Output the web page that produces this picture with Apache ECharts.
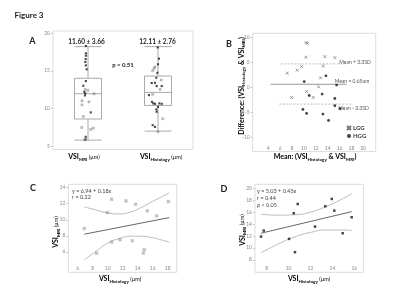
<!DOCTYPE html>
<html>
<head>
<meta charset="utf-8">
<script src="https://cdn.jsdelivr.net/npm/echarts@6/dist/echarts.min.js"></script>
<style>
html, body { margin: 0; padding: 0; background: #fff; }
#main { width: 400px; height: 300px; }
</style>
</head>
<body>
<div id="main"></div>
<script>
// ---- panel A : box plots (min, Q1, median, Q3, max)
var boxNames = ['MRI', 'Histology'];
var boxStats = [[5.8, 8.6, 11.95, 14.0, 18.2], [7.0, 10.4, 12.13, 14.3, 18.2]];
// points as [jittered position, value]
var aHgg = [
    [0.97, 18.28], [0.97, 17.31], [0.97, 16.99], [0.967, 16.55], [0.961, 16.16], [0.97, 15.72],
    [0.981, 15.19], [0.97, 13.63], [0.933, 13.01], [0.947, 12.21], [0.961, 12.0], [0.957, 11.73],
    [1.039, 9.48], [0.967, 6.24], [0.964, 5.9],
    [1.996, 18.1], [2.014, 16.6], [2.0, 15.85], [1.99, 14.73], [1.976, 14.07], [1.91, 13.37],
    [1.957, 13.4], [1.981, 12.97], [2.053, 12.97], [1.871, 11.77], [1.914, 10.88], [1.933, 10.67],
    [1.957, 10.62], [2.019, 10.67], [2.053, 10.62], [2.0, 10.22], [1.976, 9.87], [1.981, 9.56],
    [1.924, 7.79], [1.957, 7.56]
];
var aLgg = [
    [0.961, 12.53], [1.0, 12.4], [1.086, 11.95], [0.914, 11.02], [1.014, 10.88], [0.914, 10.48],
    [0.933, 8.94], [0.91, 7.48], [1.039, 7.22], [1.076, 7.39], [0.953, 5.85],
    [1.957, 15.5], [1.943, 15.3], [1.924, 15.0], [2.047, 13.77], [2.029, 12.53], [1.924, 11.87],
    [2.067, 8.63], [2.0, 6.9]
];

// ---- panel B : Bland-Altman
var bLgg = [
    [10.34, 9.0], [10.62, 8.88], [10.34, 6.08], [13.53, 6.2], [15.2, 6.0], [13.24, 4.34],
    [9.61, 4.2], [8.87, 3.48], [7.19, 2.88], [12.8, 1.94], [12.47, 0.14], [10.45, -0.8],
    [7.93, -2.0], [11.56, -2.0]
];
var bHgg = [
    [10.05, 1.2], [13.7, 2.34], [15.5, 0.48], [10.89, -1.6], [13.07, -1.32], [15.2, -2.2],
    [15.2, -3.66], [16.1, -4.26], [9.83, -4.4], [10.45, -5.2], [13.2, -5.32], [14.15, -6.6]
];
var bMean = 0.65, bUpper = 4.74, bLower = -3.33;
var bMeanSpan = [4.4, 17.2], bUpperSpan = [6.1, 16.9], bLowerSpan = [5.85, 18.3];

// ---- panel C : LGG correlation
var cPoints = [
    [6.88, 8.91], [8.53, 5.83], [9.95, 10.89], [10.53, 7.22], [10.53, 12.56], [11.64, 7.5],
    [12.44, 12.35], [13.28, 7.38], [13.73, 11.94], [15.28, 11.11], [14.88, 6.26], [14.75, 5.85],
    [16.53, 10.48], [18.08, 12.26]
];
var cFit = [[6.88, 8.2], [18.21, 10.27]];
var cUpper = [[6.88, 11.6], [8.5, 11.2], [10, 10.85], [11.5, 10.72], [13, 10.95], [14.5, 11.55], [16, 12.3], [17.3, 12.9], [18.21, 13.35]];
var cLower = [[6.88, 5.0], [8.5, 6.1], [10, 7.1], [11.5, 7.65], [13, 7.95], [14.5, 7.95], [16, 7.75], [17.3, 7.45], [18.21, 7.2]];

// ---- panel D : HGG correlation
var dPoints = [
    [7.48, 11.89], [7.73, 12.9], [10.47, 15.81], [10.83, 17.37], [10.58, 9.28], [10.04, 11.51],
    [12.41, 13.57], [13.35, 16.98], [13.94, 18.21], [14.17, 16.25], [14.94, 12.46], [15.76, 15.14]
];
var dFit = [[7.48, 12.46], [15.76, 16.08]];
var dUpper = [[7.48, 15.64], [9, 15.5], [10.5, 15.55], [12, 16.0], [13.5, 17.0], [15, 18.3], [15.76, 19.1]];
var dLower = [[7.48, 9.2], [9, 10.6], [10.5, 11.8], [12, 12.6], [13.5, 13.0], [15, 13.0], [15.76, 12.9]];

// tick labels
var aTicksY = [5, 10, 15, 20];
var bTicksX = [4, 6, 8, 10, 12, 14, 16, 18, 20];
var bTicksY = [-10, -5, 0, 5, 10];
var cTicksX = [6, 8, 10, 12, 14, 16, 18];
var cTicksY = [6, 8, 10, 12, 14];
var dTicksX = [8, 10, 12, 14, 16];
var dTicksY = [8, 10, 12, 14, 16, 18, 20];

var FONT = 'Lato, "Liberation Sans", sans-serif';
var CROSS = 'path://M0,0L10,10M10,0L0,10';
var BOXCROSS = 'path://M0,0H10V10H0ZM0,0L10,10M10,0L0,10';

function valAxis(grid, min, max, ticks, extra) {
    var ax = {
        type: 'value', gridIndex: grid, min: min, max: max,
        splitLine: { show: false },
        axisLine: { show: false },
        axisTick: { show: true, length: 2, customValues: ticks, lineStyle: { color: '#aaa', width: 0.6 } },
        axisLabel: { customValues: ticks, fontSize: 5, color: '#888', fontFamily: FONT, margin: 3 }
    };
    for (var k in extra) ax[k] = extra[k];
    return ax;
}
function insideX(ticks) {
    return {
        axisLabel: { customValues: ticks, inside: true, fontSize: 5, color: '#888', fontFamily: FONT, margin: 1 },
        axisTick: { show: false }
    };
}

function txt(x, y, text, size, weight, color, align) {
    return {
        type: 'text', x: x, y: y, silent: true,
        style: {
            text: text, fontSize: size, fontWeight: weight || 'normal', fontFamily: FONT,
            fill: color || '#222', align: align || 'center', verticalAlign: 'middle'
        }
    };
}

var richStyle = {
    n: { fontSize: 7, fontWeight: 'bold', fontFamily: FONT, color: '#222', lineHeight: 10 },
    s: { fontSize: 4.5, fontWeight: 'bold', fontFamily: FONT, color: '#222', lineHeight: 10, verticalAlign: 'bottom' },
    u: { fontSize: 5.5, fontFamily: FONT, color: '#222', lineHeight: 10 }
};
function richTxt(x, y, text, rot) {
    return {
        type: 'text', x: x, y: y, rotation: rot || 0, silent: true,
        style: { text: text, rich: richStyle, align: 'center', verticalAlign: 'middle' }
    };
}

function line(data, xi, yi, color, width, type, smooth) {
    return {
        type: 'line', xAxisIndex: xi, yAxisIndex: yi, data: data, symbol: 'none', smooth: !!smooth,
        silent: true, lineStyle: { color: color, width: width, type: type || 'solid' }, z: 2
    };
}

var option = {
    animation: false,
    grid: [
        { left: 53, top: 31, width: 140, height: 118.5, show: true, borderColor: '#ddd', borderWidth: 1 },
        { left: 252.7, top: 33.3, width: 123, height: 118.2, show: true, borderColor: '#ddd', borderWidth: 1 },
        { left: 68.3, top: 184.3, width: 108.4, height: 88, show: true, borderColor: '#ddd', borderWidth: 1 },
        { left: 255, top: 184.3, width: 108.3, height: 88, show: true, borderColor: '#ddd', borderWidth: 1 }
    ],
    xAxis: [
        { type: 'category', gridIndex: 0, data: boxNames, show: false },
        { type: 'value', gridIndex: 0, min: 0.5, max: 2.5, show: false },
        valAxis(1, 1.38, 22.08, bTicksX, insideX(bTicksX)),
        valAxis(2, 4.75, 19.2, cTicksX, insideX(cTicksX)),
        valAxis(3, 6.93, 16.82, dTicksX, insideX(dTicksX))
    ],
    yAxis: [
        valAxis(0, 4.56, 20.27, aTicksY),
        valAxis(1, -12.84, 10.88, bTicksY),
        valAxis(2, 3.45, 14.42, cTicksY),
        valAxis(3, 5.9, 20.67, dTicksY)
    ],
    legend: {
        left: 346, top: 125, orient: 'vertical', padding: 0, itemGap: 2,
        itemWidth: 4, itemHeight: 4, selectedMode: false, data: ['LGG', 'HGG'],
        textStyle: { fontSize: 6, fontWeight: 'bold', color: '#333', fontFamily: FONT, padding: [0, 0, 0, -3] }
    },
    series: [
        {
            type: 'boxplot', xAxisIndex: 0, yAxisIndex: 0, data: boxStats, boxWidth: [27, 27], silent: true,
            itemStyle: { color: '#fff', borderColor: '#aaa', borderWidth: 1 }
        },
        {
            name: 'A HGG', type: 'scatter', xAxisIndex: 1, yAxisIndex: 0, data: aHgg,
            symbol: 'rect', symbolSize: 2.1, itemStyle: { color: '#1a1a1a' }, z: 3
        },
        {
            name: 'A LGG', type: 'scatter', xAxisIndex: 1, yAxisIndex: 0, data: aLgg,
            symbol: BOXCROSS, symbolSize: 2, itemStyle: { color: 'rgba(0,0,0,0)', borderColor: '#666', borderWidth: 0.4 }, z: 3
        },
        line([[bMeanSpan[0], bMean], [bMeanSpan[1], bMean]], 2, 1, '#999', 1),
        line([[bUpperSpan[0], bUpper], [bUpperSpan[1], bUpper]], 2, 1, '#aaa', 0.8, [2, 1.5]),
        line([[bLowerSpan[0], bLower], [bLowerSpan[1], bLower]], 2, 1, '#aaa', 0.8, [2, 1.5]),
        {
            name: 'LGG', type: 'scatter', xAxisIndex: 2, yAxisIndex: 1, data: bLgg,
            symbol: CROSS, symbolSize: 3, itemStyle: { color: 'rgba(0,0,0,0)', borderColor: '#555', borderWidth: 0.7 }, z: 3
        },
        {
            name: 'HGG', type: 'scatter', xAxisIndex: 2, yAxisIndex: 1, data: bHgg,
            symbol: 'circle', symbolSize: 2.8, itemStyle: { color: '#111' }, z: 3
        },
        line(cFit, 3, 2, '#666', 1),
        line(cUpper, 3, 2, '#bbb', 1, 'solid', true),
        line(cLower, 3, 2, '#bbb', 1, 'solid', true),
        {
            name: 'C LGG', type: 'scatter', xAxisIndex: 3, yAxisIndex: 2, data: cPoints,
            symbol: BOXCROSS, symbolSize: 2.4, itemStyle: { color: 'rgba(0,0,0,0)', borderColor: '#666', borderWidth: 0.4 }, z: 3
        },
        line(dFit, 4, 3, '#666', 1),
        line(dUpper, 4, 3, '#bbb', 1, 'solid', true),
        line(dLower, 4, 3, '#bbb', 1, 'solid', true),
        {
            name: 'D HGG', type: 'scatter', xAxisIndex: 4, yAxisIndex: 3, data: dPoints,
            symbol: 'rect', symbolSize: 2.5, itemStyle: { color: '#1a1a1a' }, z: 3
        }
    ],
    graphic: [
        txt(29, 15.5, 'Figure 3', 8, 'bold'),
        txt(32.5, 41, 'A', 9, 'bold'),
        txt(229, 44, 'B', 9, 'bold'),
        txt(33, 188, 'C', 9, 'bold'),
        txt(224, 189, 'D', 9, 'bold'),
        txt(86.5, 42, '11.60 \u00b1 3.66', 6.5, 'bold'),
        txt(157.5, 42, '12.11 \u00b1 2.76', 6.5, 'bold'),
        txt(123, 65, 'p = 0.51', 6, 'bold'),
        richTxt(84, 157, '{n|VSI}{s|MRI}{u| (\u00b5m)}'),
        richTxt(161, 157, '{n|VSI}{s|Histology}{u| (\u00b5m)}'),
        richTxt(315, 157, '{n|Mean: (VSI}{s|Histology}{n| & VSI}{s|MRI}{n|)}'),
        richTxt(241.5, 86, '{n|Difference: (VSI}{s|Histology}{n| & VSI}{s|MRI}{n|)}', Math.PI / 2),
        txt(355, 62, 'Mean + 3.3SD', 5, 'normal', '#555'),
        txt(352, 81.5, 'Mean = 0.65um', 5, 'normal', '#555'),
        txt(353.5, 108, 'Mean - 3.3SD', 5, 'normal', '#555'),
        txt(72, 191.7, 'y = 6.94 + 0.18x', 5.5, 'normal', '#444', 'left'),
        txt(72, 197.5, 'r = 0.22', 5.5, 'normal', '#444', 'left'),
        txt(257, 191.7, 'y = 5.03 + 0.45x', 5.5, 'normal', '#444', 'left'),
        txt(257, 198.3, 'r = 0.44', 5.5, 'normal', '#444', 'left'),
        txt(257, 205, 'p < 0.05', 5.5, 'normal', '#444', 'left'),
        richTxt(120, 279, '{n|VSI}{s|Histology}{u| (\u00b5m)}'),
        richTxt(309, 279, '{n|VSI}{s|Histology}{u| (\u00b5m)}'),
        richTxt(56, 232, '{n|VSI}{s|MRI}{u| (\u00b5m)}', Math.PI / 2),
        richTxt(242.5, 230, '{n|VSI}{s|MRI}{u| (\u00b5m)}', Math.PI / 2)
    ]
};

var myChart = echarts.init(document.getElementById('main'));
myChart.setOption(option);
</script>
</body>
</html>
